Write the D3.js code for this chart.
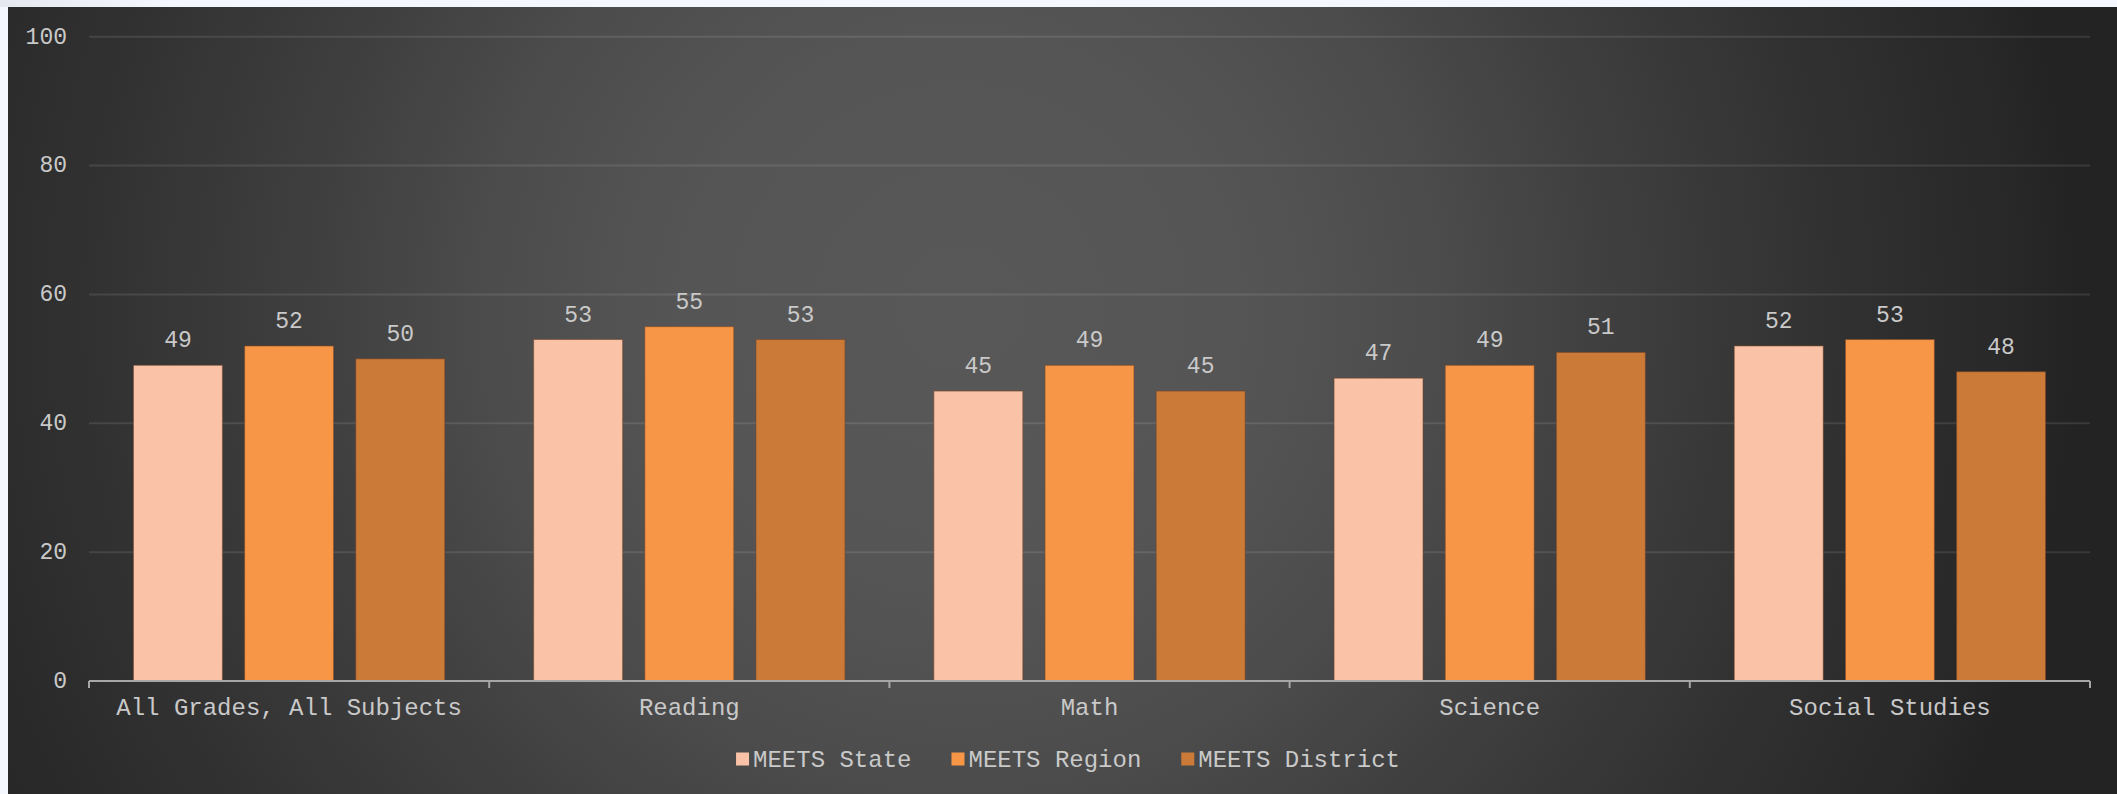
<!DOCTYPE html>
<html>
<head>
<meta charset="utf-8">
<script src="https://cdn.jsdelivr.net/npm/d3@7"></script>
<style>
  html, body { margin: 0; padding: 0; background: #f4f7fd; }
  svg { display: block; }
  text { font-family: "Courier New", "Liberation Mono", monospace; }
</style>
</head>
<body>
<svg id="chart" width="2117" height="794"></svg>
<script>
const categories = ["All Grades, All Subjects", "Reading", "Math", "Science", "Social Studies"];
const seriesNames = ["MEETS State", "MEETS Region", "MEETS District"];
const stateValues = [49, 53, 45, 47, 52];
const regionValues = [52, 55, 49, 49, 53];
const districtValues = [50, 53, 45, 51, 48];
const yTicks = [0, 20, 40, 60, 80, 100];
const seriesColors = ["#fac3a8", "#f79646", "#cc7a37"];

const seriesValues = [stateValues, regionValues, districtValues];

const svg = d3.select("#chart");
const W = 2117, H = 794;

// background
const defs = svg.append("defs");
const topStrip = defs.append("linearGradient").attr("id", "strip")
  .attr("x1", 0).attr("x2", 1).attr("y1", 0).attr("y2", 0);
topStrip.append("stop").attr("offset", 0).attr("stop-color", "#e5e8ee");
topStrip.append("stop").attr("offset", 1).attr("stop-color", "#f4f7fd");
svg.append("rect").attr("x", 0).attr("y", 0).attr("width", 170).attr("height", 7).attr("fill", "url(#strip)");

const rg = defs.append("radialGradient").attr("id", "bg")
  .attr("gradientUnits", "userSpaceOnUse")
  .attr("cx", 960).attr("cy", 310).attr("r", 1120);
[[0, "#585858"], [0.25, "#555555"], [0.42, "#4c4c4c"], [0.58, "#3f3f3f"], [0.78, "#313131"], [0.94, "#282828"], [1, "#232323"]]
  .forEach(([o, c]) => rg.append("stop").attr("offset", o).attr("stop-color", c));

svg.append("rect").attr("x", 8).attr("y", 7).attr("width", W - 8).attr("height", H - 7).attr("fill", "url(#bg)");

const x0 = 89, x1 = 2090;
const yBottom = 681, yTop = 36.7;

const x = d3.scaleBand().domain(categories).range([x0, x1]).paddingInner(0).paddingOuter(0);
const xs = d3.scaleBand().domain(seriesNames).range([0, x.bandwidth()]).paddingInner(0.2).paddingOuter(0.4);
const y = d3.scaleLinear().domain([0, 100]).range([yBottom, yTop]);

const textColor = "#c9c9c9";

// gridlines
svg.append("g").selectAll("line").data(yTicks.filter(d => d > 0)).join("line")
  .attr("x1", x0).attr("x2", x1)
  .attr("y1", d => y(d)).attr("y2", d => y(d))
  .attr("stroke", "rgba(255,255,255,0.1)").attr("stroke-width", 2);

// y tick labels
const yAxis = d3.axisLeft(y).tickValues(yTicks).tickSize(0).tickPadding(0);
const gy = svg.append("g").attr("transform", "translate(67,-1)").call(yAxis);
gy.select(".domain").remove();
gy.selectAll("text").attr("fill", textColor).attr("font-size", 23)
  .attr("font-family", "'Courier New', 'Liberation Mono', monospace").attr("text-anchor", "end");

// bars
const groups = svg.append("g").selectAll("g").data(categories).join("g")
  .attr("transform", d => `translate(${x(d)},0)`);
groups.selectAll("rect").data((c, i) => seriesNames.map((s, j) => ({s, j, v: seriesValues[j][i]})))
  .join("rect")
  .attr("x", d => xs(d.s)).attr("width", xs.bandwidth())
  .attr("y", d => y(d.v)).attr("height", d => yBottom - y(d.v))
  .attr("fill", d => seriesColors[d.j])
  .attr("stroke", "rgba(120,70,40,0.55)").attr("stroke-width", 1);

groups.selectAll("text.val").data((c, i) => seriesNames.map((s, j) => ({s, j, v: seriesValues[j][i]})))
  .join("text").attr("class", "val")
  .attr("x", d => xs(d.s) + xs.bandwidth() / 2)
  .attr("y", d => y(d.v) - 18)
  .attr("text-anchor", "middle").attr("fill", textColor).attr("font-size", 23)
  .text(d => d.v);

// x axis
const xAxis = d3.axisBottom(x).tickSize(0).tickPadding(0);
const gx = svg.append("g").attr("transform", `translate(0,${yBottom})`).call(xAxis);
gx.select(".domain").remove();
gx.selectAll("text").attr("fill", textColor).attr("font-size", 24)
  .attr("font-family", "'Courier New', 'Liberation Mono', monospace")
  .attr("dy", 0).attr("y", 34);
svg.append("line").attr("x1", x0).attr("x2", x1).attr("y1", yBottom).attr("y2", yBottom)
  .attr("stroke", "#a6a6a6").attr("stroke-width", 2);
const boundaries = categories.map(c => x(c)).concat([x1]);
svg.append("g").selectAll("line").data(boundaries).join("line")
  .attr("x1", d => d).attr("x2", d => d)
  .attr("y1", yBottom).attr("y2", yBottom + 7)
  .attr("stroke", "#a6a6a6").attr("stroke-width", 2);

// legend
const legend = svg.append("g");
const items = legend.selectAll("g").data(seriesNames).join("g");
items.append("rect").attr("width", 13).attr("height", 13).attr("y", -6.5)
  .attr("fill", (d, i) => seriesColors[i]);
items.append("text").attr("x", 17).attr("y", 0).attr("dy", "0.35em")
  .attr("fill", textColor).attr("font-size", 24).text(d => d);
let cx = 0;
items.each(function () {
  const g = d3.select(this);
  g.attr("transform", `translate(${cx},0)`);
  const w = 17 + g.select("text").node().getComputedTextLength();
  cx += w + 40;
});
const total = cx - 40;
legend.attr("transform", `translate(${1068 - total / 2},759)`);
</script>
</body>
</html>
